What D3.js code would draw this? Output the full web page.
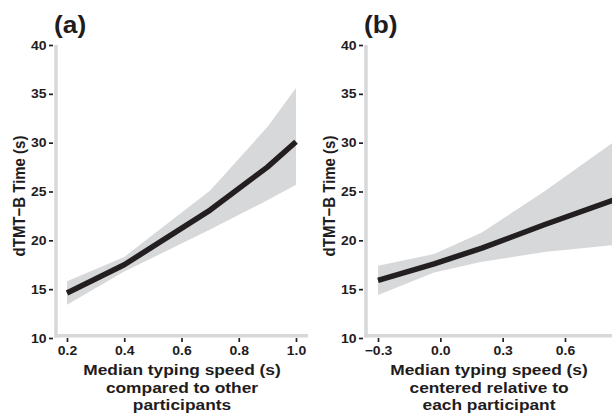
<!DOCTYPE html>
<html><head><meta charset="utf-8">
<script src="https://cdn.jsdelivr.net/npm/d3@7"></script>
<style>
body{margin:0;background:#fff;}
text{font-family:"Liberation Sans",Arial,sans-serif;font-weight:bold;fill:#1f1c1d;}
</style></head>
<body><svg id="c" width="612" height="416"></svg>
<script>
// Panel (a): between-person effect
const xA = [0.2, 0.4, 0.7, 0.9, 1.0];
const fitA = [14.6, 17.5, 23.1, 27.5, 30.1];
const lowA = [13.4, 16.8, 21.1, 24.1, 25.7];
const upA  = [15.8, 18.3, 25.1, 31.6, 35.6];
const ticksXA = [0.2, 0.4, 0.6, 0.8, 1.0];
const labelsXA = ["0.2", "0.4", "0.6", "0.8", "1.0"];

// Panel (b): within-person effect
const xB = [-0.3, -0.03, 0.2, 0.5, 0.83];
const fitB = [15.9, 17.6, 19.2, 21.6, 24.1];
const lowB = [14.4, 16.7, 17.8, 18.8, 19.5];
const upB  = [17.4, 18.6, 20.8, 25.0, 30.0];
const ticksXB = [-0.3, 0.0, 0.3, 0.6];
const labelsXB = ["\u22120.3", "0.0", "0.3", "0.6"];

const ticksY = [10, 15, 20, 25, 30, 35, 40];
const yTitle = "dTMT\u2212B Time (s)";
const xTitleA = ["Median typing speed (s)", "compared to other", "participants"];
const xTitleB = ["Median typing speed (s)", "centered relative to", "each participant"];

const svg = d3.select("#c");
const gray = "#d7d8da", ink = "#231f20";
const SX = 1.12; // horizontal stretch of the original figure's lettering

function panel(cfg){
  const g = svg.append("g");
  const x = d3.scaleLinear().domain(cfg.xdom).range(cfg.xrange);
  const y = d3.scaleLinear().domain([10, 40]).range([338, 45]);
  const data = cfg.xs.map((v,i)=>({x:v, f:cfg.fit[i], lo:cfg.low[i], hi:cfg.up[i]}));
  // band
  g.append("path").datum(data)
    .attr("d", d3.area().x(d=>x(d.x)).y0(d=>y(d.lo)).y1(d=>y(d.hi)))
    .attr("fill", gray);
  // axis bars
  g.append("line").attr("x1", cfg.barX).attr("x2", cfg.barX)
    .attr("y1", y(40)).attr("y2", 337.5).attr("stroke", gray).attr("stroke-width", 3.5);
  g.append("line").attr("x1", cfg.barX-1.75).attr("x2", cfg.barEnd)
    .attr("y1", 335.8).attr("y2", 335.8).attr("stroke", gray).attr("stroke-width", 3.5);
  // fit line
  g.append("path").datum(data)
    .attr("d", d3.line().x(d=>x(d.x)).y(d=>y(d.f)))
    .attr("fill", "none").attr("stroke", ink).attr("stroke-width", 5.5)
    .attr("stroke-linejoin", "round");
  // y axis
  const ya = g.append("g").attr("transform", `translate(${cfg.barX-3},0)`)
    .call(d3.axisLeft(y).tickValues(ticksY).tickSize(4).tickPadding(2));
  ya.select(".domain").remove();
  ya.selectAll("line").attr("stroke", ink).attr("stroke-width", 1.7);
  ya.selectAll("text").style("font-size", "12.5px").style("font-family", "Liberation Sans, Arial, sans-serif")
    .style("font-weight", "bold").attr("fill", "#1f1c1d")
    .attr("x", -6.5/SX).attr("transform", `scale(${SX},1)`);
  // x axis
  const xa = g.append("g").attr("transform", "translate(0,338)")
    .call(d3.axisBottom(x).tickValues(cfg.ticksX).tickFormat((d,i)=>cfg.labelsX[i]).tickSize(4).tickPadding(4));
  xa.select(".domain").remove();
  xa.selectAll("line").attr("stroke", ink).attr("stroke-width", 1.7);
  xa.selectAll("text").style("font-size", "12.5px").style("font-family", "Liberation Sans, Arial, sans-serif")
    .style("font-weight", "bold").attr("fill", "#1f1c1d").attr("transform", `scale(${SX},1)`);
  // titles
  const cx = (cfg.barX + cfg.barEnd)/2;
  cfg.xTitle.forEach((t,i)=>{
    g.append("text").attr("transform", `translate(${cx},${375 + i*17.7}) scale(${SX},1)`)
      .attr("text-anchor","middle").style("font-size","15.5px").text(t);
  });
  g.append("text").attr("transform", `translate(${cfg.barX-31},196) scale(${SX},1) rotate(-90)`)
    .attr("text-anchor","middle").style("font-size","15px").text(yTitle);
  g.append("text").attr("transform", `translate(${cfg.barX-2},33) scale(${SX},1)`)
    .style("font-size","23.5px").text(cfg.tag);
}

panel({xdom:[0.2,1.0], xrange:[67,296], xs:xA, fit:fitA, low:lowA, up:upA,
  ticksX:ticksXA, labelsX:labelsXA, barX:56, barEnd:308, xTitle:xTitleA, tag:"(a)"});
panel({xdom:[-0.3,0.6], xrange:[378,565], xs:xB, fit:fitB, low:lowB, up:upB,
  ticksX:ticksXB, labelsX:labelsXB, barX:366, barEnd:612, xTitle:xTitleB, tag:"(b)"});
</script></body></html>
